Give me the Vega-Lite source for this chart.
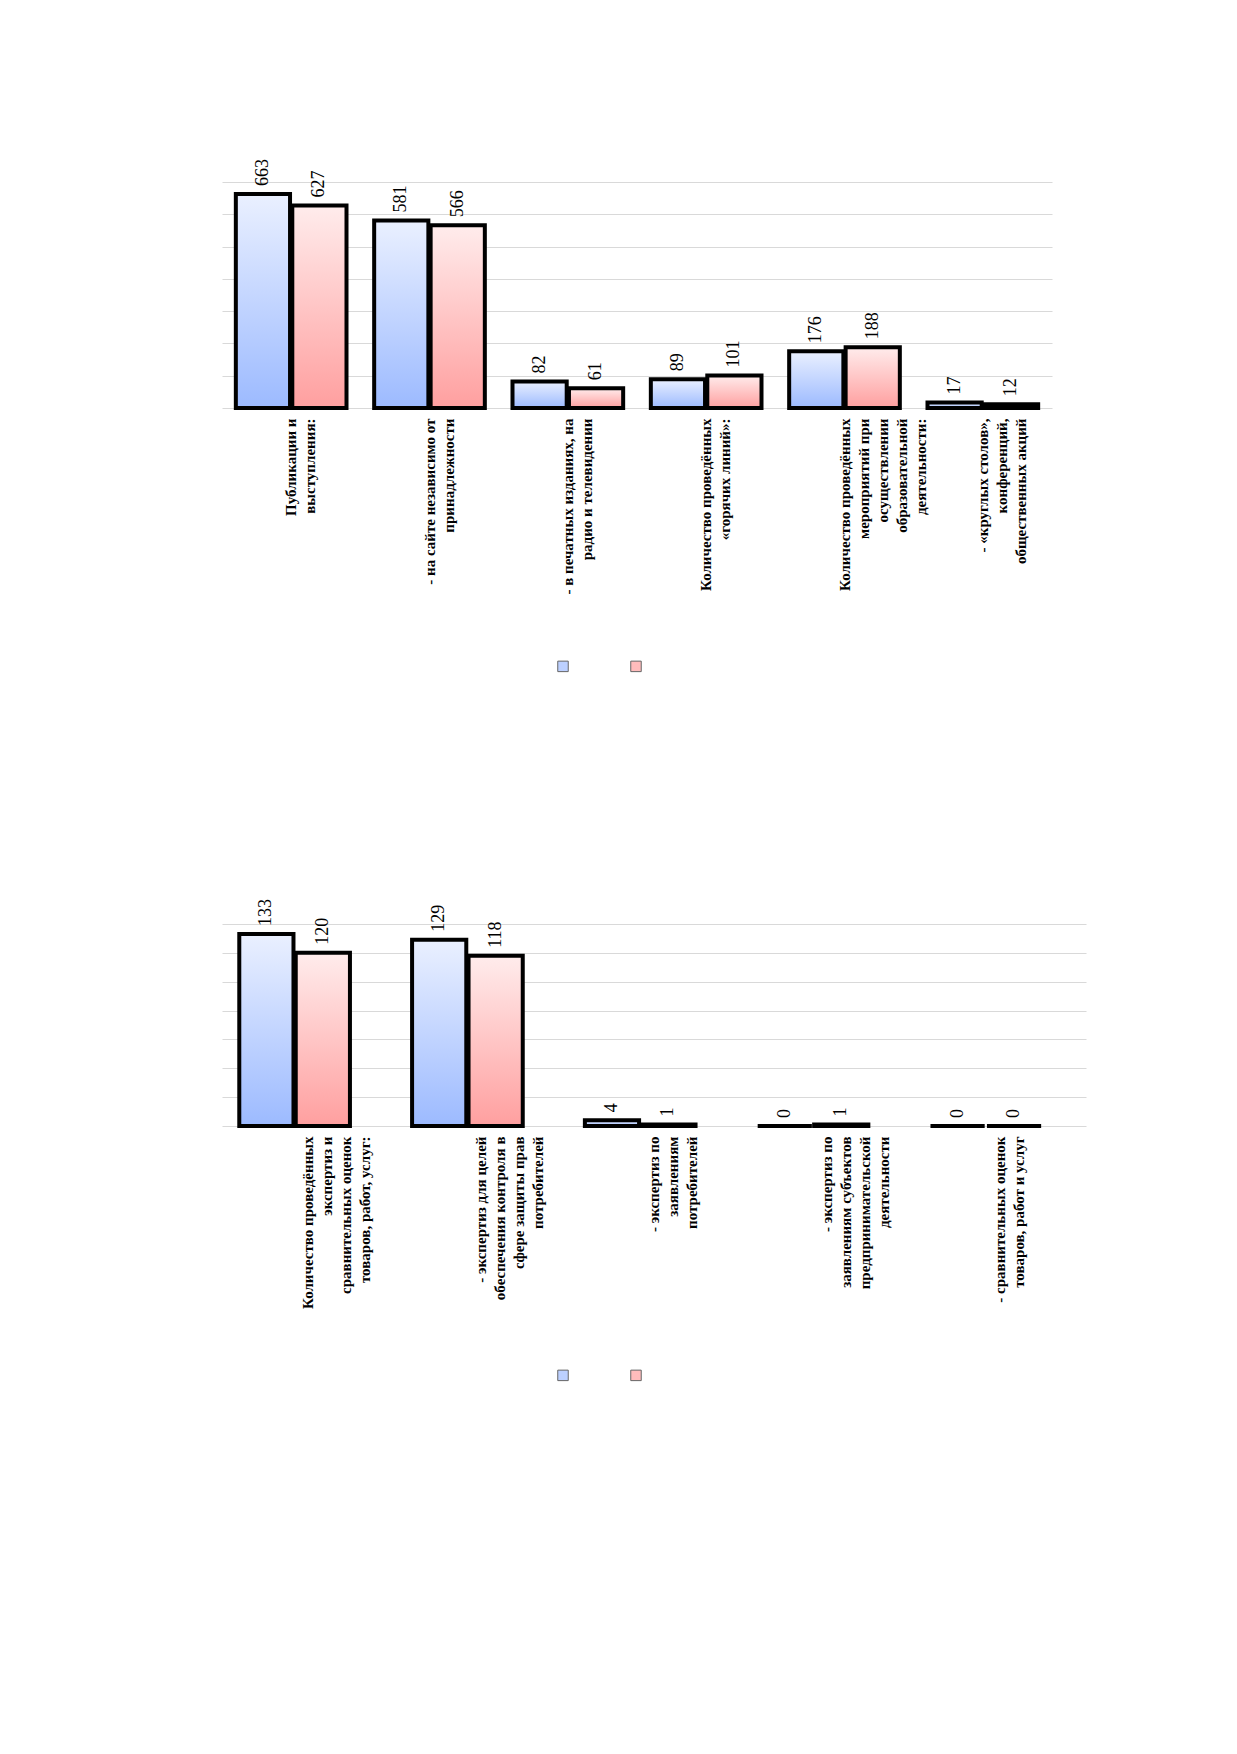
{
  "$schema": "https://vega.github.io/schema/vega-lite/v6.json",
  "background": "white",
  "padding": {"left": 222, "top": 158, "right": 10, "bottom": 10},
  "config": {
    "font": "Liberation Serif",
    "view": {"stroke": null},
    "axis": {"labelFont": "Liberation Serif", "labelFontSize": 15, "labelFontWeight": "bold", "labelColor": "#000"},
    "legend": {"symbolOpacity": 1}
  },
  "spacing": 225,
  "datasets": {
    "c1": [
      {"cat": "Публикации и|выступления:", "s": "a", "v": 663},
      {"cat": "Публикации и|выступления:", "s": "b", "v": 627},
      {"cat": "- на сайте независимо от|принадлежности", "s": "a", "v": 581},
      {"cat": "- на сайте независимо от|принадлежности", "s": "b", "v": 566},
      {"cat": "- в печатных изданиях, на|радио и телевидении", "s": "a", "v": 82},
      {"cat": "- в печатных изданиях, на|радио и телевидении", "s": "b", "v": 61},
      {"cat": "Количество проведённых|«горячих линий»:", "s": "a", "v": 89},
      {"cat": "Количество проведённых|«горячих линий»:", "s": "b", "v": 101},
      {"cat": "Количество проведённых|мероприятий при|осуществлении|образовательной|деятельности:", "s": "a", "v": 176},
      {"cat": "Количество проведённых|мероприятий при|осуществлении|образовательной|деятельности:", "s": "b", "v": 188},
      {"cat": "- «круглых столов»,|конференций,|общественных акций", "s": "a", "v": 17},
      {"cat": "- «круглых столов»,|конференций,|общественных акций", "s": "b", "v": 12}
    ],
    "c2": [
      {"cat": "Количество проведённых|экспертиз и|сравнительных оценок|товаров, работ, услуг:", "s": "a", "v": 133},
      {"cat": "Количество проведённых|экспертиз и|сравнительных оценок|товаров, работ, услуг:", "s": "b", "v": 120},
      {"cat": "- экспертиз для целей|обеспечения контроля в|сфере защиты прав|потребителей", "s": "a", "v": 129},
      {"cat": "- экспертиз для целей|обеспечения контроля в|сфере защиты прав|потребителей", "s": "b", "v": 118},
      {"cat": "- экспертиз по|заявлениям|потребителей", "s": "a", "v": 4},
      {"cat": "- экспертиз по|заявлениям|потребителей", "s": "b", "v": 1},
      {"cat": "- экспертиз по|заявлениям субъектов|предпринимательской|деятельности", "s": "a", "v": 0},
      {"cat": "- экспертиз по|заявлениям субъектов|предпринимательской|деятельности", "s": "b", "v": 1},
      {"cat": "- сравнительных оценок|товаров, работ и услуг", "s": "a", "v": 0},
      {"cat": "- сравнительных оценок|товаров, работ и услуг", "s": "b", "v": 0}
    ]
  },
  "vconcat": [
    {
      "data": {"name": "c1"},
      "width": 830,
      "height": 226,
      "encoding": {
        "x": {"field": "cat", "type": "nominal", "sort": null, "title": null,
          "scale": {"paddingInner": 0.2, "paddingOuter": 0.1},
          "axis": {"labelAngle": -90, "labelAlign": "right", "labelBaseline": "middle", "labelExpr": "split(datum.label, '|')", "labelLineHeight": 19, "labelDy": -12, "ticks": false, "domain": false, "labelPadding": 10, "labelLimit": 300}},
        "xOffset": {"field": "s", "scale": {"domain": ["a", "b"], "paddingInner": 0.04}},
        "y": {"field": "v", "type": "quantitative", "scale": {"domain": [0, 700]},
          "axis": {"title": null, "labels": false, "ticks": false, "domain": false, "tickCount": 7, "gridColor": "#d9d9d9"}}
      },
      "layer": [
        {"transform": [{"filter": "datum.s == 'a'"}],
          "mark": {"type": "bar", "stroke": "black", "strokeWidth": 4,
            "fill": {"gradient": "linear", "x1": 0, "y1": 0, "x2": 0, "y2": 1, "stops": [{"offset": 0, "color": "#eaf0ff"}, {"offset": 1, "color": "#9cbaff"}]}}},
        {"transform": [{"filter": "datum.s == 'b'"}],
          "mark": {"type": "bar", "stroke": "black", "strokeWidth": 4,
            "fill": {"gradient": "linear", "x1": 0, "y1": 0, "x2": 0, "y2": 1, "stops": [{"offset": 0, "color": "#ffecec"}, {"offset": 1, "color": "#ff9f9f"}]}}},
        {"mark": {"type": "text", "angle": 270, "align": "left", "baseline": "middle", "dx": 8, "fontSize": 18, "font": "Liberation Serif"},
          "encoding": {"text": {"field": "v"}}},
        {"mark": {"type": "point", "filled": true, "size": 0, "opacity": 1},
          "encoding": {"color": {"field": "s", "scale": {"domain": ["a", "b"], "range": ["#bcd0ff", "#ffbcbc"]},
            "legend": {"orient": "none", "legendX": 335, "legendY": 478, "direction": "horizontal", "title": null, "labelExpr": "''", "symbolType": "square", "symbolStrokeColor": "#666", "symbolStrokeWidth": 1, "symbolSize": 110, "columnPadding": 55}}}}
      ]
    },
    {
      "data": {"name": "c2"},
      "width": 864,
      "height": 202,
      "encoding": {
        "x": {"field": "cat", "type": "nominal", "sort": null, "title": null,
          "scale": {"paddingInner": 0.2, "paddingOuter": 0.1},
          "axis": {"labelAngle": -90, "labelAlign": "right", "labelBaseline": "middle", "labelExpr": "split(datum.label, '|')", "labelLineHeight": 19, "labelDy": -22, "ticks": false, "domain": false, "labelPadding": 10, "labelLimit": 300}},
        "xOffset": {"field": "s", "scale": {"domain": ["a", "b"], "paddingInner": 0.04}},
        "y": {"field": "v", "type": "quantitative", "scale": {"domain": [0, 140]},
          "axis": {"title": null, "labels": false, "ticks": false, "domain": false, "tickCount": 7, "gridColor": "#d9d9d9"}}
      },
      "layer": [
        {"transform": [{"filter": "datum.s == 'a'"}],
          "mark": {"type": "bar", "stroke": "black", "strokeWidth": 4,
            "fill": {"gradient": "linear", "x1": 0, "y1": 0, "x2": 0, "y2": 1, "stops": [{"offset": 0, "color": "#eaf0ff"}, {"offset": 1, "color": "#9cbaff"}]}}},
        {"transform": [{"filter": "datum.s == 'b'"}],
          "mark": {"type": "bar", "stroke": "black", "strokeWidth": 4,
            "fill": {"gradient": "linear", "x1": 0, "y1": 0, "x2": 0, "y2": 1, "stops": [{"offset": 0, "color": "#ffecec"}, {"offset": 1, "color": "#ff9f9f"}]}}},
        {"mark": {"type": "text", "angle": 270, "align": "left", "baseline": "middle", "dx": 8, "fontSize": 18, "font": "Liberation Serif"},
          "encoding": {"text": {"field": "v"}}},
        {"mark": {"type": "point", "filled": true, "size": 0, "opacity": 1},
          "encoding": {"color": {"field": "s", "scale": {"domain": ["a", "b"], "range": ["#bcd0ff", "#ffbcbc"]},
            "legend": {"orient": "none", "legendX": 335, "legendY": 445, "direction": "horizontal", "title": null, "labelExpr": "''", "symbolType": "square", "symbolStrokeColor": "#666", "symbolStrokeWidth": 1, "symbolSize": 110, "columnPadding": 55}}}}
      ]
    }
  ],
  "resolve": {"scale": {"color": "independent"}, "legend": {"color": "independent"}}
}
